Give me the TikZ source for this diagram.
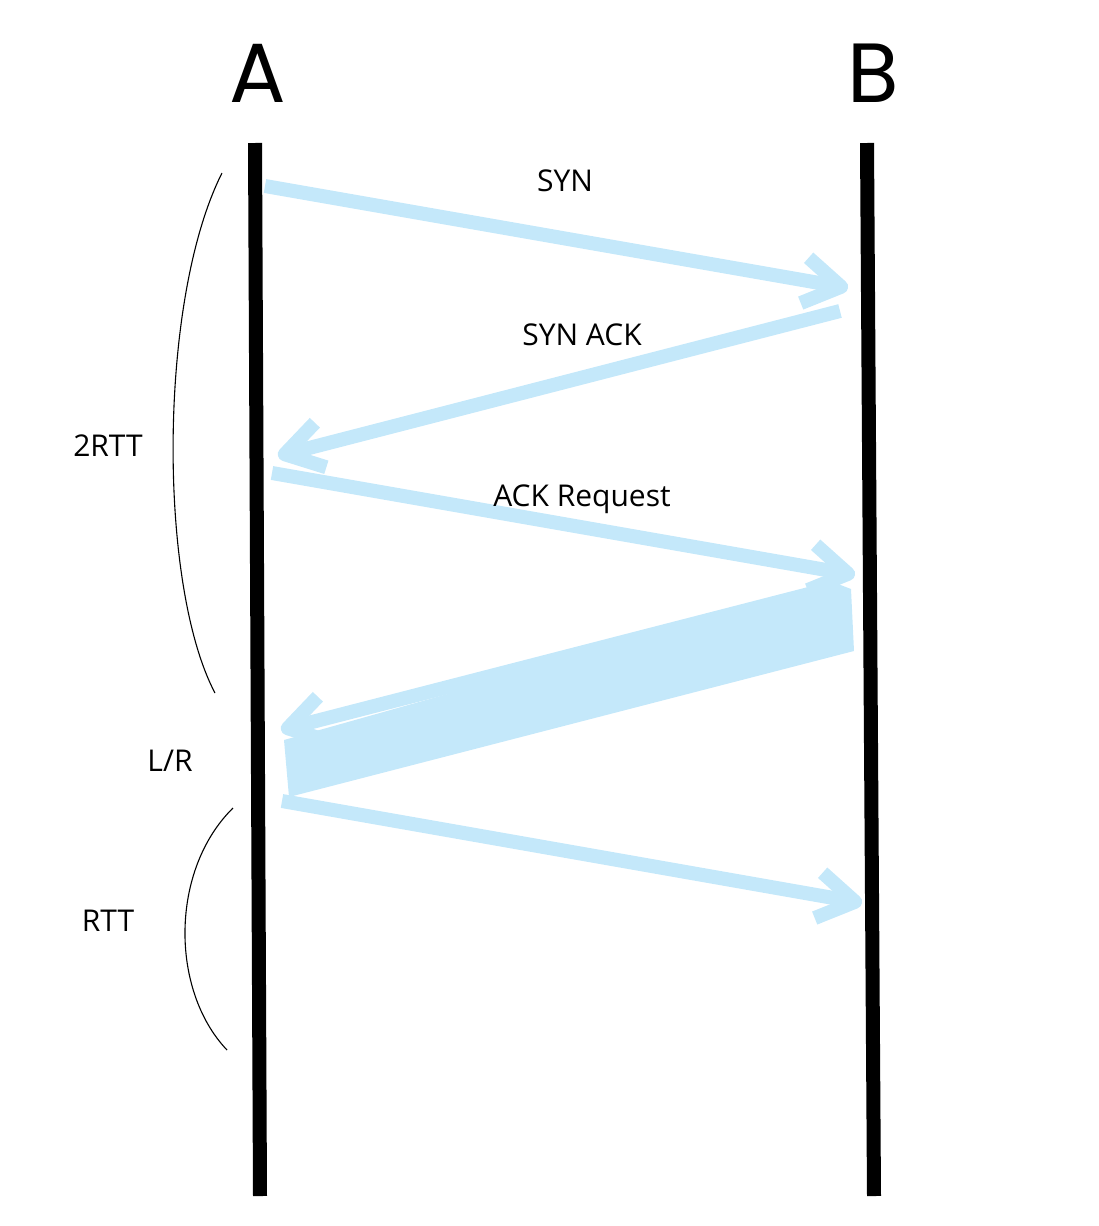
\documentclass[tikz,border=0pt]{standalone}
\usepackage{fontspec}
\setmainfont{Open Sans}
\newfontfamily\hostfont{Poppins}
\usepackage{xcolor}
\usepackage{tikz}
\usetikzlibrary{arrows.meta}

\definecolor{pkt}{HTML}{C4E8FA}

\begin{document}
\begin{tikzpicture}[
  x=1pt, y=-1pt,
  host/.style={font=\hostfont\fontsize{84}{84}\selectfont},
  wire/.style={line width=14pt, line cap=butt},
  msg/.style={draw=pkt, line width=14pt,
              -{Straight Barb[length=37pt 0, width=46pt 0,
                              line join=round, line cap=butt]}},
  lbl/.style={font=\fontsize{30}{30}\selectfont, text=black},
  span/.style={line width=1.1pt}
]
\useasboundingbox (0,0) rectangle (1098,1226);

% Hosts
\node[host] (hA) at (258,73) {A};
\node[host] (hB) at (873,73) {B};

\coordinate (aTop) at (255,143);
\coordinate (aBot) at (260,1196);
\coordinate (bTop) at (867,143);
\coordinate (bBot) at (874,1196);
\draw[wire] (aTop) -- (aBot);
\draw[wire] (bTop) -- (bBot);

% Handshake
\coordinate (syn0) at (265,186);
\coordinate (syn1) at (848,288);
\coordinate (sa0)  at (840,311);
\coordinate (sa1)  at (278,456);
\coordinate (ack0) at (272,473);
\coordinate (ack1) at (855,575);
\coordinate (dat0) at (840,586);
\coordinate (dat1) at (281,730);
\coordinate (fin0) at (282,801);
\coordinate (fin1) at (862,903);

\draw[msg] (syn0) -- (syn1);
\draw[msg] (sa0) -- (sa1);
\draw[msg] (ack0) -- (ack1);

% Daten (breites Band)
\fill[pkt] (838,584) -- (851,589) -- (854,651) -- (289,797) -- (284,740) -- cycle;
\draw[msg] (dat0) -- (dat1);
\draw[msg] (fin0) -- (fin1);

\node[lbl] (lSyn) at (565,181) {SYN};
\node[lbl] (lSa)  at (582,335) {SYN ACK};
\node[lbl] (lAck) at (582,499) {ACK Request};

% Zeitspannen
\coordinate (r2a) at (222,173);
\coordinate (r2b) at (215,693);
\coordinate (r1a) at (233,808);
\coordinate (r1b) at (227,1050);
\draw[span] (r2a) .. controls (158,300) and (158,585) .. (r2b);
\draw[span] (r1a) .. controls (170,870) and (170,990) .. (r1b);

\node[lbl] (l2rtt) at (108,446) {2RTT};
\node[lbl] (llr)   at (170,761) {L/R};
\node[lbl] (lrtt)  at (108,921) {RTT};

\end{tikzpicture}
\end{document}
